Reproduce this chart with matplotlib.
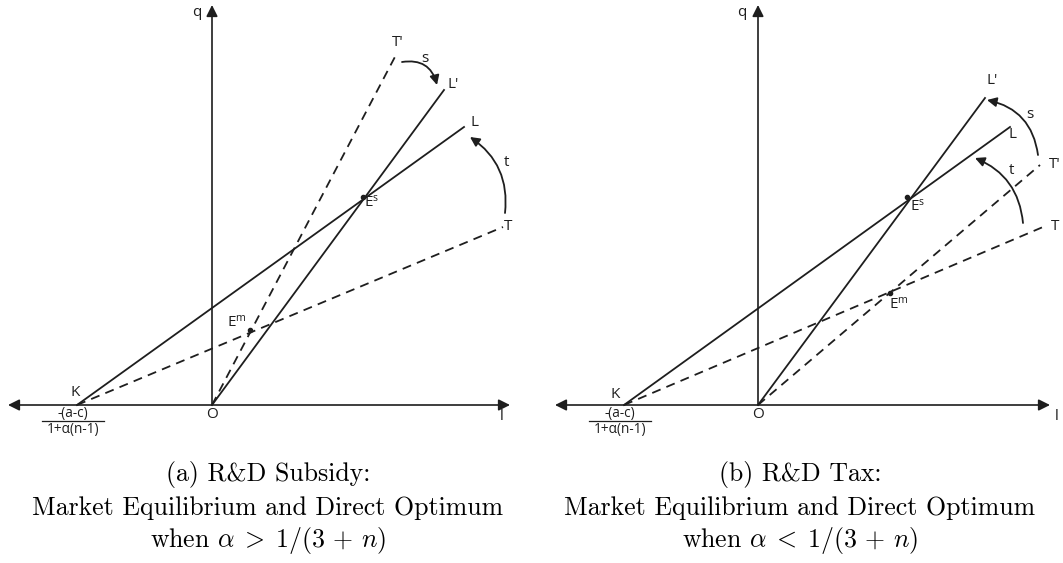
import numpy as np
import matplotlib
matplotlib.use("Agg")
import matplotlib.pyplot as plt
from matplotlib.patches import FancyArrowPatch

plt.rcParams['mathtext.fontset'] = 'custom'
plt.rcParams['mathtext.rm'] = 'Open Sans'
plt.rcParams['mathtext.it'] = 'Open Sans'

INK = '#1e1e1e'

# diagram points, relative to origin O (units ~ pixels, y up)
K_x = [-135, -134]
Es = [(151, 208), (149, 208)]
Em = [(38, 75), (132, 112)]
L_end = [(252, 278), (252, 278)]
Lp_end = [(232, 315), (227, 307)]
T_end = [(291, 178), (285, 178)]
Tp_end = [(185, 352), (282, 240)]
x_span = [(-204, 298), (-203, 292)]
y_top = [400, 400]

# curved arrows (start, end, rad)
s_arrow = [((190, 343), (225, 320), -0.45), ((280, 250), (229, 305), 0.35)]
t_arrow = [((293, 192), (258, 268), 0.3), ((265, 182), (217, 247), 0.3)]

labels = [
    {'q': (-15, 392), 'O': (0, -10), 'K': (-137, 12), 'l': (290, -12),
     "T'": (186, 363), 's': (213, 347), "L'": (241, 320), 'L': (263, 282),
     't': (295, 242), 'T': (296, 178)},
    {'q': (-16, 392), 'O': (0, -10), 'K': (-143, 11), 'l': (299, -12),
     "L'": (234, 325), 's': (272, 290), 'L': (255, 270), "T'": (297, 240),
     't': (254, 235), 'T': (297, 178)},
]
es_lab = [(160, 202), (160, 198)]
em_lab = [(25, 82), (141, 100)]

captions = [
    ['(a) R&D Subsidy:', 'Market Equilibrium and Direct Optimum',
     r'when $\alpha\;>\;1/(3\,+\,n)$'],
    ['(b) R&D Tax:', 'Market Equilibrium and Direct Optimum',
     r'when $\alpha\;<\;1/(3\,+\,n)$'],
]
cap_x = [268, 800]
cap_y = [475, 508, 541]

W, H = 1063, 563
fig = plt.figure(figsize=(W / 100, H / 100), dpi=100)

# panel placement in pixels: (left px, origin x px)
panels = [(0, 212), (531, 758)]
origin_y = 405

for i, (left, ox) in enumerate(panels):
    pw = 531 if i == 0 else W - 531
    ax = fig.add_axes([left / W, 0, pw / W, 1])
    ax.set_xlim(left - ox, left + pw - ox)
    ax.set_ylim(-(H - origin_y), origin_y)
    ax.axis('off')

    # axes with arrows
    ax.annotate('', xy=(x_span[i][0], 0), xytext=(x_span[i][1], 0),
                arrowprops=dict(arrowstyle='<|-|>', color=INK, lw=1.2,
                                mutation_scale=17, shrinkA=0, shrinkB=0))
    ax.annotate('', xy=(0, y_top[i]), xytext=(0, 0),
                arrowprops=dict(arrowstyle='-|>', color=INK, lw=1.2,
                                mutation_scale=17, shrinkA=0, shrinkB=0))

    # solid lines L and L'
    ax.plot([K_x[i], L_end[i][0]], [0, L_end[i][1]], color=INK, lw=1.3)
    ax.plot([0, Lp_end[i][0]], [0, Lp_end[i][1]], color=INK, lw=1.3)
    # dashed lines T and T'
    ax.plot([K_x[i], T_end[i][0]], [0, T_end[i][1]], color=INK, lw=1.3,
            dashes=(5, 3.5))
    ax.plot([0, Tp_end[i][0]], [0, Tp_end[i][1]], color=INK, lw=1.3,
            dashes=(5, 3.5))

    # equilibrium points
    ax.plot([Es[i][0], Em[i][0]], [Es[i][1], Em[i][1]], 'o', color=INK, ms=3)

    for (p0, p1, rad) in (s_arrow[i], t_arrow[i]):
        ax.add_patch(FancyArrowPatch(p0, p1, connectionstyle=f'arc3,rad={rad}',
                                     arrowstyle='-|>', mutation_scale=14,
                                     color=INK, lw=1.3, shrinkA=0, shrinkB=0))

    for txt, (x, y) in labels[i].items():
        ax.text(x, y, txt, ha='center', va='center', fontsize=11,
                family='Open Sans', color=INK)
    ax.text(*es_lab[i], r'E$^{\mathrm{s}}$', ha='center', va='center',
            fontsize=11, family='Open Sans', color=INK, math_fontfamily='custom')
    ax.text(*em_lab[i], r'E$^{\mathrm{m}}$', ha='center', va='center',
            fontsize=11, family='Open Sans', color=INK, math_fontfamily='custom')

    # intercept fraction below K
    fx = K_x[i] - 4
    ax.text(fx, -8, '-(a-c)', ha='center', va='center', fontsize=9.8,
            family='Open Sans', color=INK)
    ax.plot([fx - 31, fx + 31], [-16, -16], color=INK, lw=0.9)
    ax.text(fx, -24, '1+\u03b1(n-1)', ha='center', va='center', fontsize=9.8,
            family='Open Sans', color=INK)

for i in range(2):
    for j, line in enumerate(captions[i]):
        fig.text(cap_x[i] / W, 1 - cap_y[j] / H, line, ha='center',
                 va='center', fontsize=18.6, family='cmr10',
                 math_fontfamily='cm', color='black')

fig.savefig('out.png', dpi=100)
